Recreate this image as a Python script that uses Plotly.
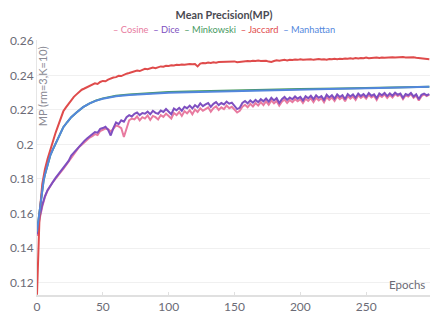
import plotly.graph_objects as go

epochs = list(range(0, 300, 2))

cosine = [0.147,0.157,0.164,0.1695,0.1732,0.1758,0.1782,0.1800,0.1822,0.1840,
0.1858,0.1880,0.1898,0.1925,0.1945,0.1965,0.1985,0.1998,0.2012,0.2025,
0.2040,0.2048,0.2060,0.2055,0.2078,0.2085,0.2092,0.2088,0.2075,0.2090,
0.2110,0.2105,0.2095,0.2043,0.2100,0.2140,0.2150,0.2145,0.2162,0.2140,
0.2158,0.2150,0.2168,0.2142,0.2165,0.2158,0.2145,0.2170,0.2160,0.2178,
0.2165,0.2150,0.2182,0.2170,0.2188,0.2165,0.2192,0.2180,0.2198,0.2175,
0.2202,0.2188,0.2210,0.2195,0.2205,0.2215,0.2190,0.2210,0.2220,0.2200,
0.2215,0.2205,0.2225,0.2210,0.2218,0.2200,0.2185,0.2195,0.2218,0.2230,
0.2215,0.2235,0.2220,0.2240,0.2225,0.2245,0.2228,0.2250,0.2230,0.2255,
0.2238,0.2252,0.2225,0.2248,0.2260,0.2240,0.2258,0.2245,0.2262,0.2250,
0.2262,0.2240,0.2265,0.2252,0.2268,0.2245,0.2270,0.2255,0.2268,0.2245,
0.2275,0.2258,0.2272,0.2252,0.2278,0.2262,0.2275,0.2250,0.2280,0.2265,
0.2278,0.2258,0.2285,0.2270,0.2282,0.2265,0.2288,0.2272,0.2282,0.2258,
0.2286,0.2275,0.2290,0.2270,0.2288,0.2272,0.2292,0.2280,0.2288,0.2262,
0.2285,0.2278,0.2292,0.2270,0.2284,0.2255,0.2280,0.2290,0.2280,0.2288]

dice = [0.148,0.158,0.165,0.170,0.1735,0.176,0.1785,0.1805,0.1825,0.1845,
0.1862,0.1885,0.1905,0.1935,0.1952,0.1975,0.1992,0.2008,0.2021,0.2035,
0.2048,0.2059,0.2072,0.2068,0.2090,0.2095,0.2102,0.2085,0.2052,0.2095,
0.2128,0.2118,0.2140,0.2132,0.2158,0.2170,0.2162,0.2178,0.2185,0.2170,
0.2182,0.2178,0.2190,0.2175,0.2195,0.2183,0.2178,0.2196,0.2188,0.2205,
0.2192,0.2175,0.2208,0.2198,0.2212,0.2195,0.2218,0.2210,0.2225,0.2208,
0.2228,0.2215,0.2238,0.2222,0.2232,0.2240,0.2218,0.2235,0.2245,0.2228,
0.2240,0.2232,0.2248,0.2236,0.2242,0.2225,0.2205,0.2212,0.2240,0.2252,
0.2238,0.2255,0.2242,0.2258,0.2245,0.2262,0.2250,0.2266,0.2248,0.2270,
0.2255,0.2268,0.2240,0.2262,0.2275,0.2258,0.2272,0.2262,0.2278,0.2265,
0.2275,0.2255,0.2280,0.2268,0.2282,0.2262,0.2285,0.2270,0.2280,0.2258,
0.2288,0.2272,0.2285,0.2265,0.2290,0.2275,0.2286,0.2262,0.2292,0.2278,
0.2290,0.2270,0.2295,0.2280,0.2292,0.2275,0.2298,0.2282,0.2290,0.2268,
0.2295,0.2285,0.2298,0.2280,0.2296,0.2282,0.2300,0.2288,0.2295,0.2270,
0.2292,0.2285,0.2298,0.2278,0.2290,0.2262,0.2288,0.2295,0.2285,0.2292]

jaccard = [0.113,0.160,0.177,0.1855,0.1915,0.1968,0.2018,0.2065,0.2108,0.2150,
0.2192,0.2215,0.2238,0.2258,0.2276,0.2290,0.2303,0.2317,0.2324,0.2332,
0.2338,0.2350,0.2354,0.2350,0.2362,0.2368,0.2366,0.2376,0.2383,0.2388,
0.2390,0.2398,0.2396,0.2405,0.2410,0.2414,0.2420,0.2425,0.2428,0.2425,
0.2433,0.2438,0.2436,0.2443,0.2446,0.2442,0.2449,0.2452,0.2450,0.2456,
0.2455,0.2459,0.2458,0.2462,0.2460,0.2463,0.2461,0.2465,0.2466,0.2464,
0.2466,0.2452,0.2468,0.2472,0.2470,0.2474,0.2472,0.2476,0.2474,0.2477,
0.2478,0.2476,0.2479,0.2481,0.2479,0.2481,0.2476,0.2478,0.2482,0.2480,
0.2484,0.2482,0.2485,0.2483,0.2486,0.2484,0.2486,0.2485,0.2480,0.2478,
0.2483,0.2487,0.2485,0.2488,0.2490,0.2487,0.2491,0.2489,0.2492,0.2490,
0.2494,0.2491,0.2493,0.2491,0.2494,0.2490,0.2493,0.2495,0.2492,0.2494,
0.2491,0.2495,0.2493,0.2496,0.2494,0.2497,0.2495,0.2498,0.2496,0.2499,
0.2497,0.2500,0.2498,0.2501,0.2499,0.2503,0.2500,0.2502,0.2500,0.2503,
0.2501,0.2504,0.2502,0.2504,0.2503,0.2505,0.2503,0.2505,0.2504,0.2506,
0.2504,0.2505,0.2503,0.2505,0.2502,0.2500,0.2496,0.2494,0.2496,0.2494]

smooth_epochs = [0,1,2,3,4,5,6,8,10,12,14,16,18,20,23,26,30,35,40,45,50,55,60,70,80,90,100,115,130,150,175,200,230,260,298]
manhattan = [0.1495,0.156,0.163,0.169,0.1745,0.179,0.1825,0.188,0.1935,0.197,0.2005,0.2035,0.2068,0.2100,0.2130,0.2158,0.2185,0.2216,0.2238,0.2254,
0.2265,0.2273,0.2279,0.2286,0.2292,0.2297,0.2300,0.2303,0.2306,0.2310,0.2315,0.2318,0.2322,0.2327,0.2334]
minkowski = [0.1495,0.156,0.163,0.169,0.1745,0.179,0.1825,0.188,0.1935,0.197,0.2005,0.2035,0.2068,0.2100,0.2130,0.2158,0.2185,0.2216,0.2238,0.2255,
0.2267,0.2275,0.2282,0.2290,0.2296,0.2301,0.2304,0.2307,0.2310,0.2314,0.2319,0.2321,0.2324,0.2328,0.2334]

names = ["Cosine", "Dice", "Minkowski", "Jaccard", "Manhattan"]
colors = ["#E87BA0", "#7E4FC0", "#479A5F", "#DF4B4B", "#5387DD"]
xs = [epochs, epochs, smooth_epochs, epochs, smooth_epochs]
ys = [cosine, dice, minkowski, jaccard, manhattan]

FONT = "Lato, 'Source Sans Pro', 'Noto Sans', sans-serif"

fig = go.Figure()
for n, c, x, y in zip(names, colors, xs, ys):
    fig.add_trace(go.Scatter(x=x, y=y, mode="lines", name=n,
                             line=dict(color=c, width=2), showlegend=False))

legend_txt = "&nbsp;&nbsp;".join(
    f"<span style='color:{c}'>– {n}</span>" for n, c in zip(names, colors))

fig.update_layout(
    width=430, height=320,
    margin=dict(l=37, r=0, t=40, b=25),
    paper_bgcolor="white", plot_bgcolor="white",
    font=dict(family=FONT, color="#6b6b76", size=12),
    title=dict(text="<b>Mean Precision(MP)</b>", x=224/430, xanchor="center",
               y=1-15/320, yanchor="middle", font=dict(size=10.8, color="#4a4a52")),
    xaxis=dict(range=[0, 298.5], tickvals=[0, 50, 100, 150, 200, 250],
               showgrid=False, zeroline=False, showline=True, linecolor="#e0e0e0",
               linewidth=1.5, ticks="inside", ticklen=3, tickcolor="#e0e0e0",
               tickfont=dict(size=12, color="#6b6b76")),
    yaxis=dict(range=[0.1128, 0.2605], tick0=0.12, dtick=0.02,
               showgrid=True, gridcolor="#f0f0f0", zeroline=False,
               showline=True, linecolor="#e6e6e6", linewidth=1,
               ticks="", tickfont=dict(size=12, color="#6b6b76")),
    annotations=[
        dict(text=legend_txt, x=(224-37)/393, y=(320-30-25)/255, xref="paper", yref="paper",
             showarrow=False, font=dict(size=9.3), xanchor="center", yanchor="middle"),
        dict(text="MP (rm=3,K=10)", x=4, y=0.2605, xref="x", yref="y",
             textangle=-90, showarrow=False, font=dict(size=11, color="#8a8a94"),
             xanchor="center", yanchor="top", yshift=-4),
        dict(text="Epochs", x=1, y=0, xref="paper", yref="paper",
             showarrow=False, font=dict(size=11.5, color="#6b6b76"),
             xanchor="right", yanchor="bottom", xshift=-3, yshift=2),
    ],
)

fig.write_html("out.html")
